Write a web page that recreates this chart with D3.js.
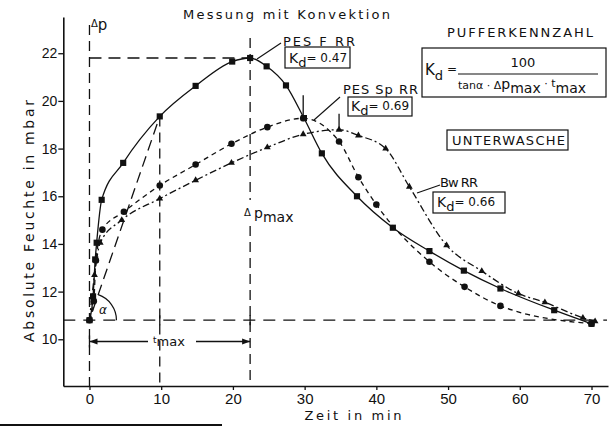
<!DOCTYPE html>
<html><head><meta charset="utf-8">
<script src="https://cdn.jsdelivr.net/npm/d3@7"></script>
<style>
html,body{margin:0;padding:0;background:#fff;}
svg{display:block;}
text{font-family:"DejaVu Sans",sans-serif;fill:#111;}
</style>
</head><body>
<svg id="c" width="610" height="428"></svg>
<script>
// ---------- data ----------
const tickX = [0, 10, 20, 30, 40, 50, 60, 70];
const tickY = [10, 12, 14, 16, 18, 20, 22];

// PES F RR (squares, solid)
const timeF = [0, 0.5, 0.8, 1.0, 1.7, 4.7, 9.8, 14.8, 19.9, 22.4, 24.7, 27.4, 29.9, 32.4, 37.3, 42.3, 47.4, 52.2, 57.3, 64.8, 70];
const valF  = [10.8, 11.8, 13.35, 14.05, 15.85, 17.4, 19.35, 20.63, 21.65, 21.8, 21.45, 20.65, 19.28, 17.8, 16.0, 14.68, 13.7, 12.88, 12.13, 11.22, 10.65];

// PES Sp RR (dots, dashed)
const timeSp = [0, 0.6, 0.9, 1.8, 4.8, 9.8, 14.8, 19.8, 24.8, 29.8, 34.8, 37.5, 40, 47.4, 52.3, 57.3, 70];
const valSp  = [10.8, 11.6, 13.3, 14.6, 15.35, 16.45, 17.33, 18.2, 18.9, 19.27, 18.3, 16.8, 15.65, 13.25, 12.2, 11.4, 10.65];

// Bw RR (triangles, dash-dot)
const timeBw = [0, 0.7, 1.5, 4.5, 9.8, 14.8, 19.8, 24.8, 29.8, 34.8, 37.5, 41.3, 44.6, 49.8, 54.7, 59.8, 63.5, 68.8, 70.5];
const valBw  = [10.8, 12.7, 14.05, 15.0, 15.9, 16.67, 17.4, 18.05, 18.6, 18.79, 18.55, 18.0, 16.4, 13.94, 12.86, 11.92, 11.55, 10.9, 10.75];

// reference values
const baseVal = 10.8;       // start humidity
const dpMaxTime = 22.4;     // t_max
const dpMaxVal = 21.8;      // peak value
const tanPointT = 9.8, tanPointV = 19.35; // tangent reference point

// ---------- scales ----------
const svg = d3.select("#c");
const x = d3.scaleLinear().domain([-3.65, 72.3]).range([63.3, 608]);
const y = d3.scaleLinear().domain([8.04, 23.52]).range([386, 17]);

const zip = (t, v) => t.map((d, i) => ({t: d, v: v[i]}));
const F = zip(timeF, valF), Sp = zip(timeSp, valSp), Bw = zip(timeBw, valBw);

// ---------- axes ----------
const gx = svg.append("g").attr("transform", "translate(0,386)")
  .call(d3.axisBottom(x).tickValues(tickX).tickSize(4).tickSizeOuter(0).tickPadding(3).tickFormat(d3.format("d")));
gx.select(".domain").attr("stroke", "#111").attr("stroke-width", 1.6);
gx.selectAll(".tick line").attr("stroke", "#111").attr("stroke-width", 1.3);
gx.selectAll(".tick text").style("font-family", "'Liberation Sans',sans-serif").style("font-size", "15px").attr("fill", "#111");

const gy = svg.append("g").attr("transform", "translate(63.3,0)")
  .call(d3.axisLeft(y).tickValues(tickY).tickSize(5).tickSizeOuter(0).tickPadding(1).tickFormat(d3.format("d")));
gy.select(".domain").attr("stroke", "#111").attr("stroke-width", 1.6);
gy.selectAll(".tick line").attr("stroke", "#111").attr("stroke-width", 1.3);
gy.selectAll(".tick text").style("font-family", "'Liberation Sans Narrow','Liberation Sans',sans-serif").style("font-size", "14px").attr("fill", "#111");

// axis titles
svg.append("text").attr("x", 353).attr("y", 420).attr("text-anchor", "middle")
  .attr("textLength", 97).attr("lengthAdjust", "spacing").style("font-size", "13px").text("Zeit in min");
svg.append("text").attr("transform", "translate(34,221) rotate(-90)").attr("text-anchor", "middle")
  .attr("textLength", 242).attr("lengthAdjust", "spacing").style("font-size", "14px").text("Absolute Feuchte in mbar");
svg.append("text").attr("x", 183).attr("y", 19).attr("textLength", 207).attr("lengthAdjust", "spacing")
  .style("font-size", "13px").text("Messung mit Konvektion");

// ---------- reference dashed lines ----------
const dashed = (x1, y1, x2, y2, da) => svg.append("line").attr("x1", x1).attr("y1", y1).attr("x2", x2).attr("y2", y2)
  .attr("stroke", "#111").attr("stroke-width", 1.3).attr("stroke-dasharray", da || "9,6");
dashed(63.3, y(baseVal), 607, y(baseVal), "12,8");
dashed(x(0), 25, x(0), 386, "10,6");
dashed(x(0), y(dpMaxVal), x(dpMaxTime), y(dpMaxVal), "12,7");
dashed(x(dpMaxTime), 38, x(dpMaxTime), 200, "10,6");
dashed(x(dpMaxTime), 226, x(dpMaxTime), 386, "10,6");
dashed(x(tanPointT), y(tanPointV), x(tanPointT), 386, "10,6");
// tangent line
dashed(x(0) + 3, y(baseVal) - 9, x(tanPointT), y(tanPointV), "11,6");
// small crosses on baseline
[tanPointT, dpMaxTime].forEach(t => svg.append("line").attr("x1", x(t)).attr("x2", x(t))
  .attr("y1", y(baseVal) - 5).attr("y2", y(baseVal) + 5).attr("stroke", "#111").attr("stroke-width", 1.3));

// alpha arc
const ox = x(0), oy = y(baseVal);
const ang = Math.atan2(y(baseVal) - y(tanPointV), x(tanPointT) - x(0));
const R = 27;
svg.append("path").attr("fill", "none").attr("stroke", "#111").attr("stroke-width", 1.2)
  .attr("d", `M${ox + R},${oy} A${R},${R} 0 0 0 ${ox + R * Math.cos(ang)},${oy - R * Math.sin(ang)}`);
svg.append("text").attr("x", 99).attr("y", 314).style("font-size", "12px").style("font-style", "italic").text("α");

// t_max dimension line
const ty = 341.5;
svg.append("line").attr("x1", x(0)).attr("x2", 148).attr("y1", ty).attr("y2", ty).attr("stroke", "#111").attr("stroke-width", 1.3);
svg.append("line").attr("x1", 196).attr("x2", x(dpMaxTime)).attr("y1", ty).attr("y2", ty).attr("stroke", "#111").attr("stroke-width", 1.3);
svg.append("path").attr("d", `M${x(0)},${ty} l8,-3 l0,6 z`).attr("fill", "#111");
svg.append("path").attr("d", `M${x(dpMaxTime)},${ty} l-8,-3 l0,6 z`).attr("fill", "#111");
svg.append("line").attr("x1", x(0)).attr("x2", x(0)).attr("y1", ty - 6).attr("y2", ty + 6).attr("stroke", "#111").attr("stroke-width", 1.3);
const tm = svg.append("text").attr("x", 153).attr("y", 346).style("font-size", "13px");
tm.append("tspan").style("font-size", "9px").attr("dy", -3).text("t");
tm.append("tspan").attr("dy", 3).text("max");

// Δp labels
const dp = svg.append("text").attr("x", 91).attr("y", 30).style("font-size", "15px");
dp.append("tspan").style("font-size", "10px").attr("dy", -3).text("Δ");
dp.append("tspan").attr("dy", 3).text("p");
const dpm = svg.append("text").attr("x", 244).attr("y", 218).style("font-size", "14px");
dpm.append("tspan").style("font-size", "10px").attr("dy", -2).text("Δ ");
dpm.append("tspan").attr("dy", 2).text("p");
dpm.append("tspan").attr("dy", 4).text("max");

// ---------- series ----------
const line = d3.line().x(d => x(d.t)).y(d => y(d.v)).curve(d3.curveMonotoneX);
svg.append("path").datum(F).attr("d", line).attr("fill", "none").attr("stroke", "#111").attr("stroke-width", 1.3);
svg.append("path").datum(Sp).attr("d", line).attr("fill", "none").attr("stroke", "#111").attr("stroke-width", 1.3).attr("stroke-dasharray", "5,4");
svg.append("path").datum(Bw).attr("d", line).attr("fill", "none").attr("stroke", "#111").attr("stroke-width", 1.3).attr("stroke-dasharray", "7,3,2,3");

const sym = (data, type, size) => svg.append("g").selectAll("path").data(data).join("path")
  .attr("transform", d => `translate(${x(d.t)},${y(d.v)})`).attr("d", d3.symbol().type(type).size(size)).attr("fill", "#111");
sym(F, d3.symbolSquare, 38);
sym(Sp, d3.symbolCircle, 34);
sym(Bw, d3.symbolTriangle, 20);

// peak tick marks
const peakSp = Sp[9], peakBw = Bw[9];
svg.append("line").attr("x1", x(peakSp.t)).attr("x2", x(peakSp.t)).attr("y1", y(peakSp.v) - 23).attr("y2", y(peakSp.v)).attr("stroke", "#111").attr("stroke-width", 1.3);
svg.append("line").attr("x1", x(peakBw.t)).attr("x2", x(peakBw.t)).attr("y1", y(peakBw.v) - 16).attr("y2", y(peakBw.v)).attr("stroke", "#111").attr("stroke-width", 1.3);

// ---------- labels / boxes ----------
const lead = (x1, y1, x2, y2) => svg.append("line").attr("x1", x1).attr("y1", y1).attr("x2", x2).attr("y2", y2).attr("stroke", "#111").attr("stroke-width", 1.1);
lead(281, 43, 257, 59);
lead(340, 97, 314, 120);
lead(440, 185, 417, 193);

const label = (tx, ty, txt, len) => svg.append("text").attr("x", tx).attr("y", ty).attr("textLength", len).attr("lengthAdjust", "spacing").style("font-size", "13px").text(txt);
label(283, 46, "PES F RR", 72);
label(343, 94, "PES Sp RR", 75);
label(440, 187, "Bw RR", 38);
label(447, 37, "PUFFERKENNZAHL", 146);

const box = (bx, by, bw, bh) => svg.append("rect").attr("x", bx).attr("y", by).attr("width", bw).attr("height", bh).attr("fill", "none").attr("stroke", "#111").attr("stroke-width", 1.2);
const kd = (tx, ty, val) => {
  const t = svg.append("text").attr("x", tx).attr("y", ty).style("font-size", "14px");
  t.append("tspan").text("K");
  t.append("tspan").attr("dy", 4).style("font-size", "13px").text("d");
  t.append("tspan").attr("dy", -5).style("font-size", "12px").text(val);
};
box(285, 47, 65, 21); kd(289, 63, "= 0.47");
box(348, 97, 64, 19); kd(351, 111, "= 0.69");
box(433, 192, 72, 21); kd(437, 207, "= 0.66");
box(447, 130, 121, 20);
label(452, 145, "UNTERWASCHE", 113);

// formula box
box(422, 48, 184, 49);
const kf = svg.append("text").attr("x", 425).attr("y", 75).style("font-size", "15px");
kf.append("tspan").text("K");
kf.append("tspan").attr("dy", 5).style("font-size", "13px").text("d");
kf.append("tspan").attr("dy", -7).style("font-size", "12px").text(" =");
svg.append("text").attr("x", 523).attr("y", 67).attr("text-anchor", "middle").style("font-size", "13px").text("100");
svg.append("line").attr("x1", 458).attr("x2", 598).attr("y1", 74).attr("y2", 74).attr("stroke", "#111").attr("stroke-width", 1.2);
const den = svg.append("text").attr("x", 458).attr("y", 89).style("font-size", "11px");
den.append("tspan").text("tanα · Δ");
den.append("tspan").style("font-size", "14px").text("p");
den.append("tspan").attr("dy", 4).style("font-size", "14px").text("max");
den.append("tspan").attr("dy", -6).text(" · t");
den.append("tspan").attr("dy", 6).style("font-size", "14px").text("max");

// stray scan line at bottom
svg.append("line").attr("x1", 0).attr("x2", 222).attr("y1", 425).attr("y2", 425).attr("stroke", "#111").attr("stroke-width", 2);
</script>
</body></html>
